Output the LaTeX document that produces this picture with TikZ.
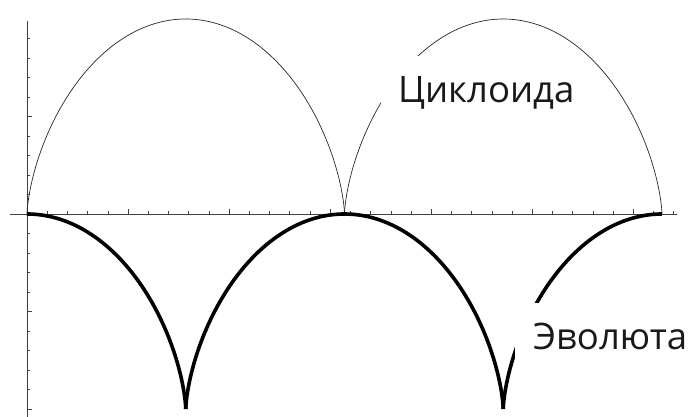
\documentclass[tikz,border=0pt]{standalone}
\usepackage{fontspec}
\setmainfont{Open Sans}
\begin{document}
\begin{tikzpicture}[x=1pt,y=1pt,
  axisline/.style={draw=black!75,line width=0.8pt},
  tickmark/.style={draw=black!75,line width=0.6pt},
  cycl/.style={draw=black!85,line width=0.7pt},
  evol/.style={draw=black,line width=3.6pt},
  mask/.style={fill=white,draw=none},
  lbl/.style={font=\fontsize{36.5}{36.5}\selectfont,inner sep=0pt,text=black!90}]
\useasboundingbox (0,0) rectangle (691,417);
\fill[white] (0,0) rectangle (691,417);
\begin{scope}[shift={(27,203)},x=50.53pt,y=97.5pt]
  % axes
  \coordinate (xl) at (-0.336,0);
  \coordinate (xr) at (12.87,0);
  \coordinate (yt) at (0,1.98);
  \coordinate (yb) at (0,-2.1);
  \draw[axisline] (xl) -- (xr);
  \draw[axisline] (yt) -- (yb);
  % x ticks
  \foreach \k in {1,...,32}{
    \pgfmathsetmacro{\xx}{0.4*\k}
    \pgfmathparse{mod(\k,5)==0 ? 1 : 0}
    \ifnum\pgfmathresult=1
      \draw[tickmark] (\xx,0) -- ++(0,4.5pt);
    \else
      \draw[tickmark] (\xx,0) -- ++(0,2.5pt);
    \fi
  }
  % y ticks
  \foreach \k in {-10,...,9}{
    \ifnum\k=0\relax\else
    \pgfmathsetmacro{\yy}{0.2*\k}
    \pgfmathparse{mod(\k,5)==0 ? 1 : 0}
    \ifnum\pgfmathresult=1
      \draw[tickmark] (0,\yy) -- ++(5pt,0);
    \else
      \draw[tickmark] (0,\yy) -- ++(3pt,0);
    \fi
    \fi
  }
  % cycloid
  \draw[cycl] plot[domain=0:2*pi,samples=160,variable=\t] ({\t-sin(\t r)},{1-cos(\t r)});
  \draw[cycl] plot[domain=2*pi:4*pi,samples=160,variable=\t] ({\t-sin(\t r)},{1-cos(\t r)});
  % evolute
  \draw[evol] plot[domain=0:pi,samples=100,variable=\t] ({\t+sin(\t r)},{cos(\t r)-1});
  \draw[evol] plot[domain=pi:3*pi,samples=200,variable=\t] ({\t+sin(\t r)},{cos(\t r)-1});
  \draw[evol] plot[domain=3*pi:4*pi,samples=100,variable=\t] ({\t+sin(\t r)},{cos(\t r)-1});
\end{scope}
% label masks
\fill[mask] (381,292) rectangle (580,361);
\fill[mask] (515,30) rectangle (691,114);
\node[lbl,anchor=base west] (cyc) at (398,314) {Циклоида};
\node[lbl,anchor=base west] (ev) at (533,67) {Эволюта};
\end{tikzpicture}
\end{document}
